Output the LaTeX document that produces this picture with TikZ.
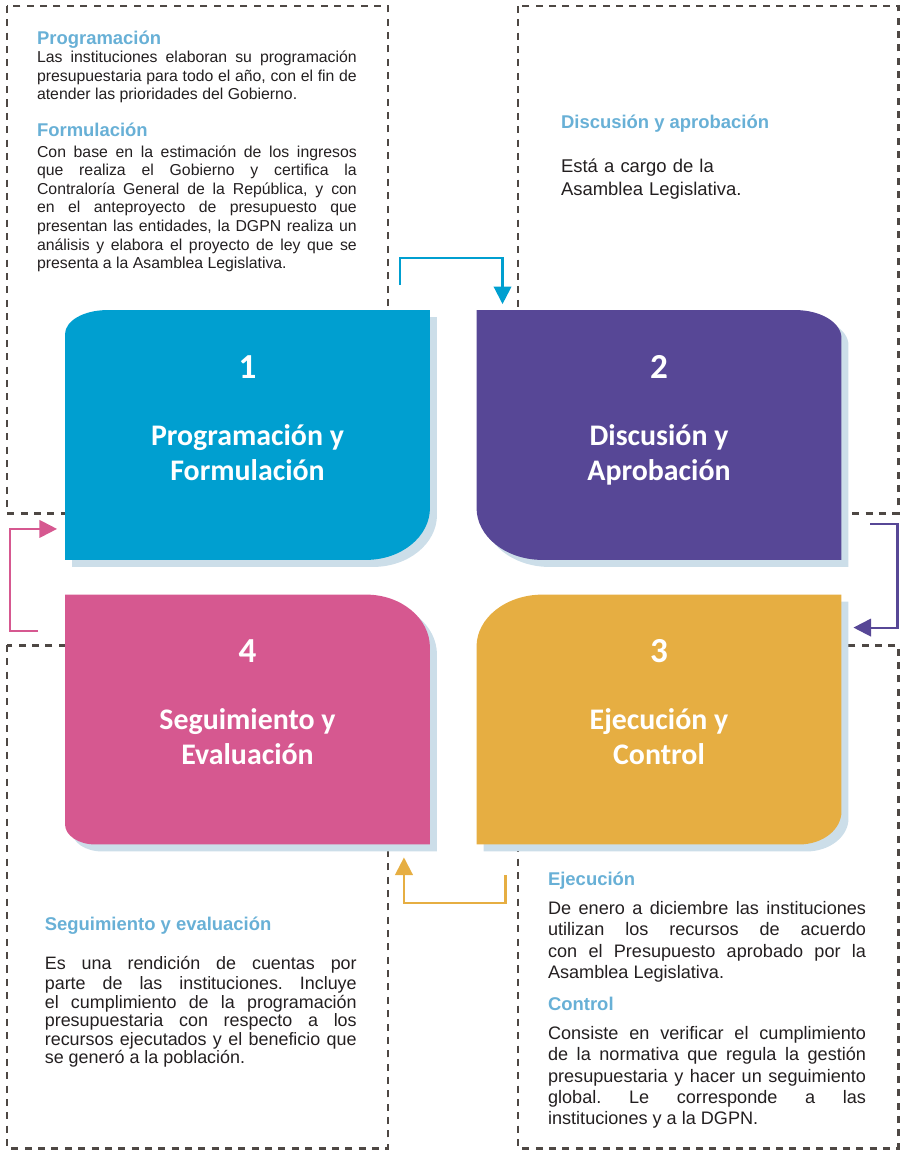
\documentclass[tikz,border=0pt]{standalone}
\usepackage{fontspec}
\setmainfont{Liberation Sans}
\newfontfamily\cardfont{Carlito}
\usetikzlibrary{arrows.meta,calc}
\setlength{\parindent}{0pt}
\tolerance=10000
\hyphenpenalty=10000
\frenchspacing

\definecolor{cblue}{RGB}{0,159,208}
\definecolor{cpurple}{RGB}{87,71,150}
\definecolor{cyellow}{RGB}{230,174,66}
\definecolor{cpink}{RGB}{214,88,144}
\definecolor{cshade}{RGB}{204,222,233}
\definecolor{headblue}{RGB}{104,176,214}
\definecolor{ink}{RGB}{35,31,32}
\definecolor{framegray}{RGB}{78,72,68}

\def\px{0.569pt}
% card outline: node name, then x/y radius of the corners nw, ne, se, sw (in px)
\newcommand{\cardpath}[9]{%
  ($(#1.north west)+(0,#3)$)
  arc[start angle=180,end angle=90,x radius=#2*\px,y radius=#3*\px]
  -- ($(#1.north east)+(-#4,0)$)
  arc[start angle=90,end angle=0,x radius=#4*\px,y radius=#5*\px]
  -- ($(#1.south east)+(0,-#7)$)
  arc[start angle=0,end angle=-90,x radius=#6*\px,y radius=#7*\px]
  -- ($(#1.south west)+(#8,0)$)
  arc[start angle=270,end angle=180,x radius=#8*\px,y radius=#9*\px]
  -- cycle}

\begin{document}
\begin{tikzpicture}[x=0.02cm,y=-0.02cm,
    cardbox/.style={minimum width=207.7pt,minimum height=142.2pt,inner sep=0pt,outer sep=0pt},
    cardlabel/.style={anchor=north,inner sep=0pt,align=center,text=white,
      font=\cardfont\bfseries\fontsize{17}{20}\selectfont},
    headline/.style={anchor=base west,inner sep=0pt,text=headblue,
      font=\bfseries\fontsize{10.5}{12}\selectfont},
    bodytext/.style={anchor=north west,inner sep=0pt,align=justify,text=ink,
      execute at begin node=\strut},
    framebox/.style={draw=framegray,line width=1.7pt,dash pattern=on 4pt off 3.6pt},
    flow/.style={line width=1.2pt,-{Triangle[length=10pt,width=10pt]}}]
  \useasboundingbox (0,0) rectangle (905,1150);

  % dashed frames
  \draw[framebox] (7,6) rectangle (388,513);
  \draw[framebox] (518,6) rectangle (898,513);
  \draw[framebox] (7,645) rectangle (388,1148);
  \draw[framebox] (518,645) rectangle (898,1148);

  % cards
  \node[cardbox] (b1) at (247.5,435) {};
  \node[cardbox] (b2) at (659,435) {};
  \node[cardbox] (b3) at (659,719.5) {};
  \node[cardbox] (b4) at (247.5,719.5) {};

  \begin{scope}[transform canvas={xshift=4pt,yshift=-4pt}]
    \fill[cshade] \cardpath{b1}{42}{24}{0}{0}{64}{52}{0}{0};
    \fill[cshade] \cardpath{b2}{0}{0}{46}{28}{0}{0}{66}{52};
    \fill[cshade] \cardpath{b3}{66}{52}{0}{0}{42}{33}{0}{0};
    \fill[cshade] \cardpath{b4}{0}{0}{64}{53}{0}{0}{30}{20};
  \end{scope}
  \fill[cblue] \cardpath{b1}{42}{24}{0}{0}{64}{52}{0}{0};
  \fill[cpurple] \cardpath{b2}{0}{0}{46}{28}{0}{0}{66}{52};
  \fill[cyellow] \cardpath{b3}{66}{52}{0}{0}{42}{33}{0}{0};
  \fill[cpink] \cardpath{b4}{0}{0}{64}{53}{0}{0}{30}{20};

  \node[cardlabel] (t1) at ($(b1.north)+(0,45)$)
    {{\fontsize{20}{20}\selectfont 1}\\[18pt]Programación y\\Formulación};
  \node[cardlabel] (t2) at ($(b2.north)+(0,45)$)
    {{\fontsize{20}{20}\selectfont 2}\\[18pt]Discusión y\\Aprobación};
  \node[cardlabel] (t3) at ($(b3.north)+(0,45)$)
    {{\fontsize{20}{20}\selectfont 3}\\[18pt]Ejecución y\\Control};
  \node[cardlabel] (t4) at ($(b4.north)+(0,45)$)
    {{\fontsize{20}{20}\selectfont 4}\\[18pt]Seguimiento y\\Evaluación};

  % texts
  \node[headline] (h1) at (36.7,44) {Programación};
  \node[bodytext,text width=182pt,font=\fontsize{9}{10.6}\selectfont] (p1) at (36.7,49.3)
    {Las instituciones elaboran su programación\linebreak
     presupuestaria para todo el año, con el fin de\linebreak
     atender las prioridades del Gobierno.};
  \node[headline] (h2) at (36.7,136.7) {Formulación};
  \node[bodytext,text width=182pt,font=\fontsize{9}{10.6}\selectfont] (p2) at (36.7,143.7)
    {Con base en la estimación de los ingresos\linebreak
     que realiza el Gobierno y certifica la\linebreak
     Contraloría General de la República, y con\linebreak
     en el anteproyecto de presupuesto que\linebreak
     presentan las entidades, la DGPN realiza un\linebreak
     análisis y elabora el proyecto de ley que se\linebreak
     presenta a la Asamblea Legislativa.};

  \node[headline] (h3) at (560.7,128.3) {Discusión y aprobación};
  \node[bodytext,align=left,text width=170pt,font=\fontsize{10.5}{12.9}\selectfont] (p3) at (560.7,156.4)
    {Está a cargo de la\\Asamblea Legislativa.};

  \node[headline] (h4) at (547.7,885) {Ejecución};
  \node[bodytext,text width=181pt,font=\fontsize{10.3}{12.1}\selectfont] (p4) at (547.7,899.4)
    {De enero a diciembre las instituciones\linebreak
     utilizan los recursos de acuerdo\linebreak
     con el Presupuesto aprobado por la\linebreak
     Asamblea Legislativa.};
  \node[headline] (h5) at (547.7,1010) {Control};
  \node[bodytext,text width=181pt,font=\fontsize{10.3}{12.1}\selectfont] (p5) at (547.7,1024.4)
    {Consiste en verificar el cumplimiento\linebreak
     de la normativa que regula la gestión\linebreak
     presupuestaria y hacer un seguimiento\linebreak
     global. Le corresponde a las\linebreak
     instituciones y a la DGPN.};

  \node[headline] (h6) at (44.5,930.7) {Seguimiento y evaluación};
  \node[bodytext,text width=177.5pt,font=\fontsize{10.2}{10.55}\selectfont] (p6) at (44.5,955.7)
    {Es una rendición de cuentas por\linebreak
     parte de las instituciones. Incluye\linebreak
     el cumplimiento de la programación\linebreak
     presupuestaria con respecto a los\linebreak
     recursos ejecutados y el beneficio que\linebreak
     se generó a la población.};

  % cycle arrows
  \coordinate (s1) at ($(b1.north east)+(-30,-25)$);
  \coordinate (e1) at ($(b2.north west)+(26,-6)$);
  \coordinate (s2) at ($(b2.south east)+(29,-36)$);
  \coordinate (e2) at ($(b3.north east)+(12,33)$);
  \coordinate (s3) at ($(b3.south west)+(29,31)$);
  \coordinate (e3) at ($(b4.south east)+(-26,13)$);
  \coordinate (s4) at ($(b4.north west)+(-27,36)$);
  \coordinate (e4) at ($(b1.south west)+(-8,-31)$);
  \draw[flow,cblue] (s1) -- ++(0,-27) -| (e1);
  \draw[flow,cpurple] (s2) -- ++(27,0) |- (e2);
  \draw[flow,cyellow] (s3) -- ++(0,28) -| (e3);
  \draw[flow,cpink] (s4) -- ++(-28,0) |- (e4);
\end{tikzpicture}
\end{document}
